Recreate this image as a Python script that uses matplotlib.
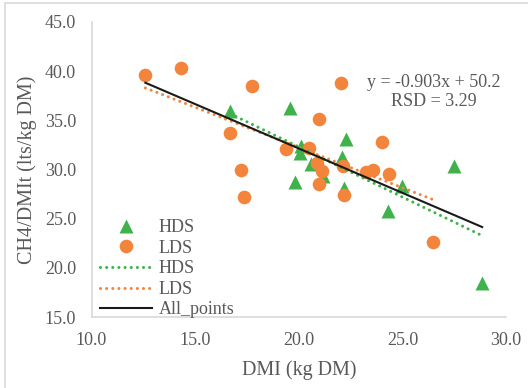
import numpy as np
import matplotlib.pyplot as plt
from matplotlib.patches import Rectangle

plt.rcParams['font.family'] = ['Liberation Serif', 'DejaVu Serif']

# HDS points (DMI, CH4/DMIt)
hds_x = [16.7, 19.6, 19.8, 20.05, 20.1, 20.6, 21.15, 22.1, 22.2, 22.3, 25.0, 24.3, 27.5, 28.85]
hds_y = [36.0, 36.3, 28.7, 31.7, 32.4, 30.6, 29.3, 31.3, 28.1, 33.1, 28.3, 25.8, 30.4, 18.5]

# LDS points
lds_x = [12.6, 14.3, 17.75, 16.7, 17.2, 17.35, 19.4, 20.5, 20.9, 21.1,
         21.0, 21.0, 22.05, 22.15, 22.2, 23.25, 23.6, 24.0, 24.35, 26.5]
lds_y = [39.6, 40.3, 38.5, 33.7, 30.0, 27.2, 32.1, 32.2, 30.7, 29.8,
         28.5, 35.1, 38.8, 30.4, 27.4, 29.7, 30.0, 32.8, 29.5, 22.6]

# trendlines (slope, intercept)
hds_fit = (-1.02, 52.7)
lds_fit = (-0.818, 48.6)
all_fit = (-0.903, 50.2)

xticks = [10.0, 15.0, 20.0, 25.0, 30.0]
yticks = [15.0, 20.0, 25.0, 30.0, 35.0, 40.0, 45.0]

green = '#3fb24c'
orange = '#f2843b'
gray = '#595959'

fig = plt.figure(figsize=(5.28, 3.88), dpi=100)
ax = fig.add_axes([91.5 / 528, 1 - 317 / 388, (506 - 91.5) / 528, (317 - 22) / 388])

# outer chart border
fig.patches.append(Rectangle((5 / 528, -0.1), 1.2, 1.1 - 3 / 388, transform=fig.transFigure,
                             fill=False, edgecolor='#d9d9d9', lw=1.2))

ax.plot(hds_x, hds_y, '^', color=green, ms=9.5, mec='none', label='HDS', zorder=2)
ax.plot(lds_x, lds_y, 'o', color=orange, ms=9.8, mec='none', label='LDS', zorder=3)


def trend(xs, fit):
    xx = np.array([min(xs), max(xs)])
    return xx, fit[0] * xx + fit[1]


dot = (0, (0.01, 2.0))
xx, yy = trend(hds_x, hds_fit)
ax.plot(xx, yy, color=green, lw=2.2, ls=dot, dash_capstyle='round', label='HDS', zorder=4)
xx, yy = trend(lds_x, lds_fit)
ax.plot(xx, yy, color=orange, lw=2.2, ls=dot, dash_capstyle='round', label='LDS', zorder=4)
xx, yy = trend(hds_x + lds_x, all_fit)
ax.plot(xx, yy, color='#1a1a1a', lw=1.5, label='All_points', zorder=5)

ax.text(26.5, 37.9, 'y = -0.903x + 50.2\nRSD = 3.29', ha='center', va='center',
        fontsize=13, color=gray, linespacing=1.2)

ax.set_xlim(10, 30)
ax.set_ylim(15, 45)
ax.set_xticks(xticks)
ax.set_yticks(yticks)
ax.set_xticklabels(['%.1f' % v for v in xticks])
ax.set_yticklabels(['%.1f' % v for v in yticks])
ax.tick_params(axis='x', length=0, pad=11, labelsize=13, labelcolor=gray)
ax.tick_params(axis='y', length=0, pad=11, labelsize=13, labelcolor=gray)
for s in ['top', 'right']:
    ax.spines[s].set_visible(False)
for s in ['left', 'bottom']:
    ax.spines[s].set_color('#d9d9d9')
    ax.spines[s].set_linewidth(1.2)

ax.set_xlabel('DMI (kg DM)', fontsize=14.5, color=gray, labelpad=8)
ax.set_ylabel('CH4/DMIt (lts/kg DM)', fontsize=14.5, color=gray, labelpad=6)

leg = ax.legend(loc='lower left', bbox_to_anchor=(0.02, -0.005), frameon=False, fontsize=13,
                handlelength=2.9, handletextpad=0.35, labelspacing=0.2, numpoints=1,
                borderaxespad=0, borderpad=0)
for t in leg.get_texts():
    t.set_color(gray)

fig.savefig('out.png', dpi=100)
